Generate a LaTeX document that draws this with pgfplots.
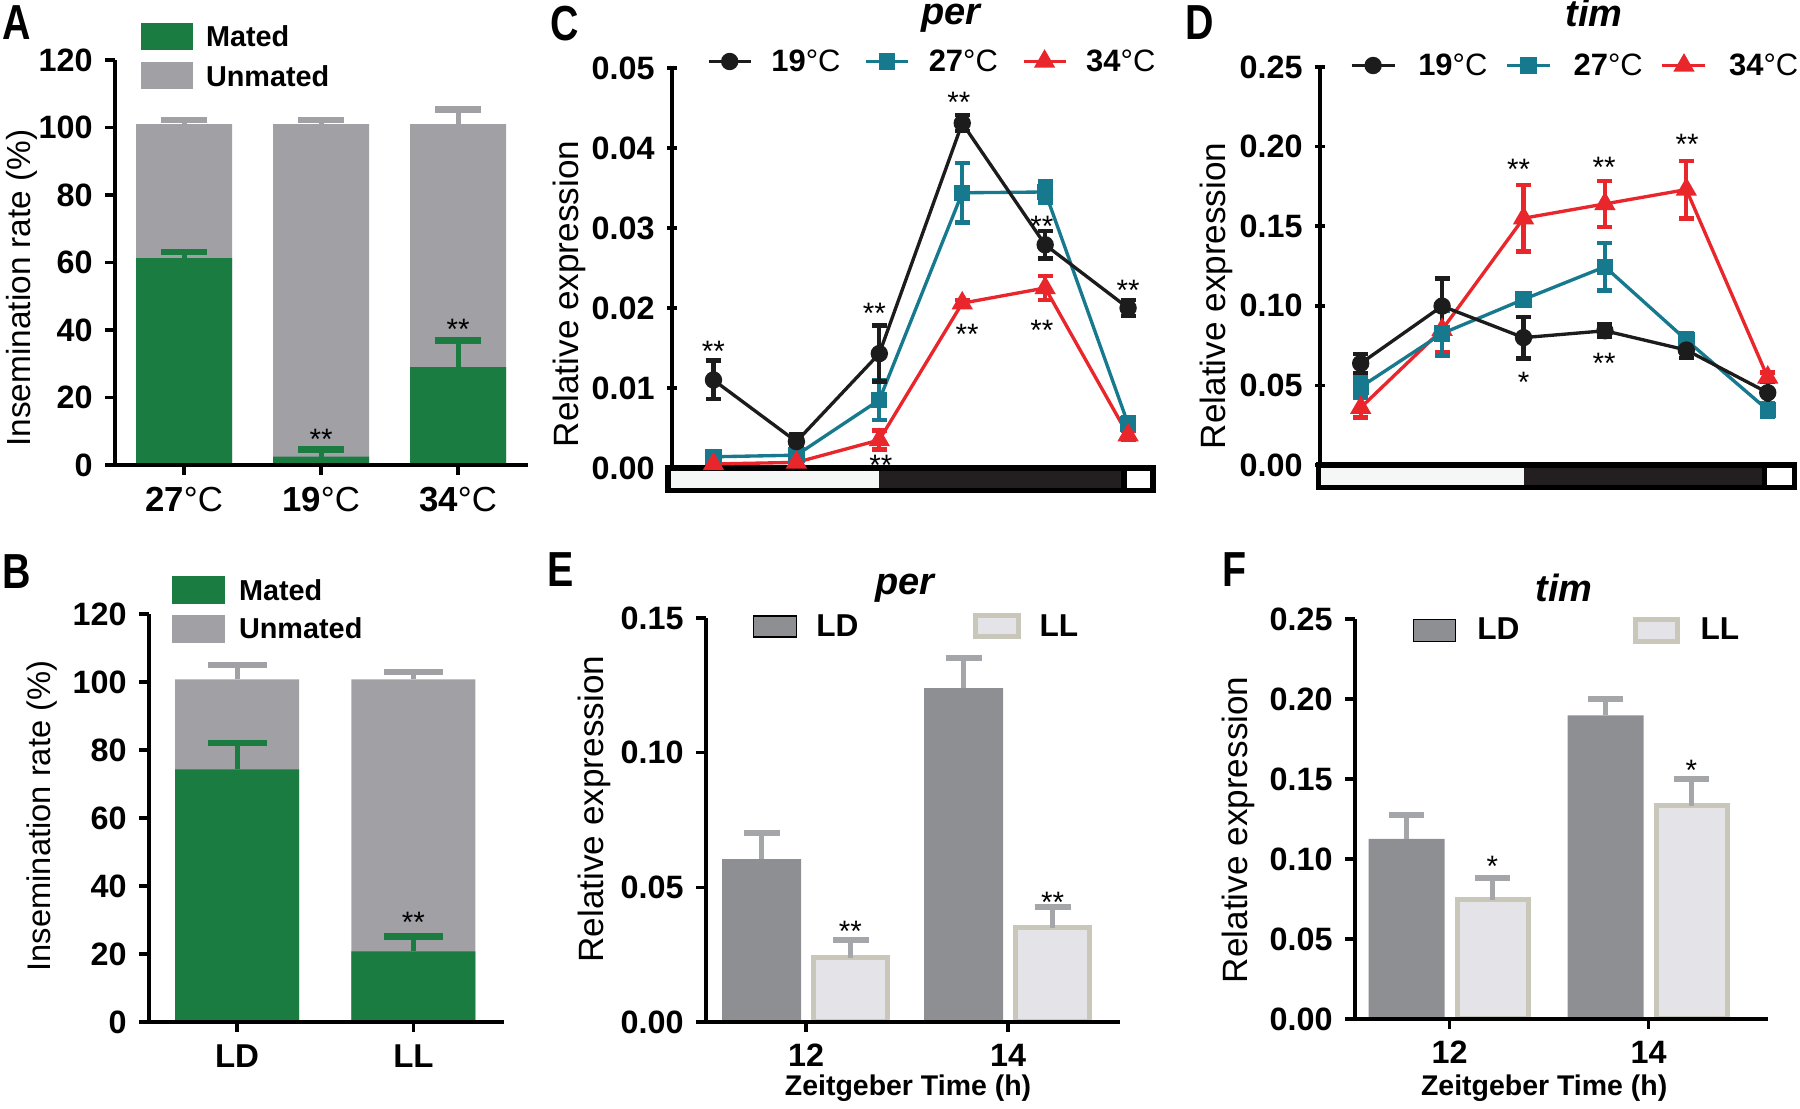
\documentclass[border=0pt]{standalone}
\usepackage{pgfplots}
\pgfplotsset{compat=1.18}
\usepackage{fontspec}
\setmainfont{Liberation Sans}
\usepackage{graphicx}
\definecolor{mgreen}{HTML}{1B7C41}
\definecolor{ugray}{HTML}{A1A1A5}
\definecolor{cteal}{HTML}{17798E}
\definecolor{cred}{HTML}{E8262B}
\definecolor{cblack}{HTML}{1C1C1C}
\definecolor{ldfill}{HTML}{8E8F93}
\definecolor{llfill}{HTML}{E4E4E8}
\definecolor{llborder}{HTML}{C9C7BA}
\definecolor{errgray}{HTML}{A5A6AA}
\definecolor{barlight}{HTML}{F5F6F6}
\definecolor{bardark}{HTML}{231F20}
\newcommand{\tickfont}{\bfseries\fontsize{9.2}{11}\selectfont}
\tikzset{ast/.style={font=\fontsize{8.4}{10}\selectfont, inner sep=0pt, anchor=base, yshift=-1.7mm},
  letter/.style={font=\bfseries\fontsize{14}{16}\selectfont, inner sep=0pt, anchor=north west},
  gtitle/.style={font=\bfseries\itshape\fontsize{10.8}{12}\selectfont, inner sep=0pt, anchor=base}}
\pgfplotsset{
  panel/.style={
    scale only axis, clip=false, axis on top,
    axis lines=left,
    axis line style={line width=1pt, -},
    every non boxed x axis/.append style={x axis line style=-},
    every non boxed y axis/.append style={y axis line style=-},
    tick style={line width=1pt, black},
    major tick length=1mm, tick align=outside,
    /pgf/number format/assume math mode=true,
    yticklabel style={font=\tickfont},
    xticklabel style={font=\tickfont},
    every axis y label/.style={rotate=90, anchor=center, font=\fontsize{10}{12}\selectfont},
    legend style={draw=none, fill=none, inner sep=0pt, outer sep=0pt, nodes={inner sep=0pt}},
    legend cell align=left,
  },
  dec2/.style={yticklabel style={/pgf/number format/.cd, fixed, fixed zerofill, precision=2}, scaled y ticks=false},
  upbar/.style n args={3}{/pgfplots/error bars/y dir=plus, /pgfplots/error bars/y explicit,
    /pgfplots/error bars/error bar style={line width=1.4pt, #1},
    /pgfplots/error bars/error mark=|,
    /pgfplots/error bars/error mark options={line width=#3, mark size=#2, #1}},
  bothbar/.style={/pgfplots/error bars/y dir=both, /pgfplots/error bars/y explicit,
    /pgfplots/error bars/error bar style={line width=1.2pt, #1},
    /pgfplots/error bars/error mark=|,
    /pgfplots/error bars/error mark options={line width=1.3pt, mark size=0.75mm, #1}},
  s19/.style={cblack, line width=0.95pt, mark=*, mark size=0.7mm, mark options={solid}},
  s27/.style={cteal, line width=0.95pt, mark=square*, mark size=0.65mm, mark options={solid}},
  s34/.style={cred, line width=0.95pt, mark=triangle*, mark size=0.9mm, mark options={solid}},
}
\begin{document}
\begin{tikzpicture}
% ---------------- A ----------------
\begin{axis}[panel, at={(11.5mm,64.4mm)}, anchor=south west, width=41.3mm, height=40.5mm,
  xmin=-0.504, xmax=2.51, ymin=0, ymax=120,
  ytick={0,20,40,60,80,100,120},
  xtick={0,1,2}, xticklabels={\textbf{27}°C,\textbf{19}°C,\textbf{34}°C},
  xticklabel style={font=\fontsize{9.9}{11}\selectfont},
  ylabel={Insemination rate (\%)},
  ylabel style={at={(axis description cs:-0.225,0.437)}, font=\fontsize{9.5}{11}\selectfont},
  legend style={at={(axis description cs:0.063,1.091)}, anchor=north west, row sep=1.0mm,
    font=\fontsize{8.2}{10}\selectfont,
    /tikz/every odd column/.append style={column sep=1.3mm}},
  legend image code/.code={\fill[#1] (0mm,-1.1mm) rectangle (5.2mm,1.6mm);},
]
\addlegendimage{fill=mgreen, draw=none}\addlegendentry{\textbf{Mated}}
\addlegendimage{fill=ugray, draw=none}\addlegendentry{\textbf{Unmated}}
\addplot[ybar, bar width=9.6mm, bar shift=0pt, fill=ugray, draw=none, forget plot, upbar={ugray}{2.3mm}{1.8pt}]
  coordinates {(0,101) +- (0,1.2) (1,101) +- (0,1.2) (2,101) +- (0,4.3)};
\addplot[ybar, bar width=9.6mm, bar shift=0pt, fill=mgreen, draw=none, forget plot, upbar={mgreen}{2.3mm}{1.8pt}]
  coordinates {(0,61.3) +- (0,1.8) (1,2.5) +- (0,2.1) (2,29.0) +- (0,7.9)};
\node[ast] at (axis cs:1,9.7) {**};
\node[ast] at (axis cs:2,42.2) {**};
\end{axis}
% ---------------- B ----------------
\begin{axis}[panel, at={(14.9mm,8.7mm)}, anchor=south west, width=35.5mm, height=40.8mm,
  xmin=-0.499, xmax=1.513, ymin=0, ymax=120,
  ytick={0,20,40,60,80,100,120},
  xtick={0,1}, xticklabels={LD,LL},
  xticklabel style={font=\bfseries\fontsize{9.4}{11}\selectfont},
  ylabel={Insemination rate (\%)},
  ylabel style={at={(axis description cs:-0.3,0.505)}, font=\fontsize{9.3}{11}\selectfont},
  legend style={at={(axis description cs:0.065,1.093)}, anchor=north west, row sep=0.9mm,
    font=\fontsize{8.2}{10}\selectfont,
    /tikz/every odd column/.append style={column sep=1.4mm}},
  legend image code/.code={\fill[#1] (0mm,-1.15mm) rectangle (5.3mm,1.65mm);},
]
\addlegendimage{fill=mgreen, draw=none}\addlegendentry{\textbf{Mated}}
\addlegendimage{fill=ugray, draw=none}\addlegendentry{\textbf{Unmated}}
\addplot[ybar, bar width=12.4mm, bar shift=0pt, fill=ugray, draw=none, forget plot, upbar={ugray}{2.95mm}{1.8pt}]
  coordinates {(0,100.8) +- (0,4.2) (1,100.8) +- (0,2.1)};
\addplot[ybar, bar width=12.4mm, bar shift=0pt, fill=mgreen, draw=none, forget plot, upbar={mgreen}{2.95mm}{1.8pt}]
  coordinates {(0,74.3) +- (0,7.8) (1,20.8) +- (0,4.3)};
\node[ast] at (axis cs:1,31.3) {**};
\end{axis}
% ---------------- C ----------------
\begin{axis}[panel, dec2, at={(67.2mm,64.1mm)}, anchor=south west, width=48.1mm, height=40.0mm,
  axis y line=left, axis x line=none,
  xmin=-0.5, xmax=5.30, ymin=0, ymax=0.05,
  ytick={0,0.01,0.02,0.03,0.04,0.05},
  ylabel={Relative expression},
  ylabel style={at={(axis description cs:-0.214,0.435)}},
  legend columns=3,
  legend style={at={(axis description cs:0.0728,1.0125)}, anchor=west,
    font=\fontsize{8.8}{10}\selectfont,
    /tikz/every odd column/.append style={column sep=1.9mm},
    /tikz/every even column/.append style={column sep=2.4mm}},
  legend image code/.code={\draw[mark repeat=2, mark phase=2, #1] plot coordinates {(0mm,0.15mm) (2.1mm,0.15mm) (4.2mm,0.15mm)};},
]
\addlegendimage{s19}\addlegendentry{\textbf{19}°C}
\addlegendimage{s27}\addlegendentry{\textbf{27}°C}
\addlegendimage{s34}\addlegendentry{\textbf{34}°C}
\fill[barlight] (axis cs:-0.55,0) rectangle (axis cs:2.0,-0.0028);
\fill[bardark] (axis cs:2.0,0) rectangle (axis cs:4.95,-0.0028);
\draw[line width=0.55mm] (axis cs:-0.55,0) rectangle (axis cs:5.30,-0.0028);
\draw[line width=0.55mm] (axis cs:4.95,0) -- (axis cs:4.95,-0.0028);
\addplot[s27, forget plot, bothbar={cteal}] coordinates {
 (0,0.0014) +- (0,0.0004) (1,0.0016) +- (0,0.0004) (2,0.0085) +- (0,0.0025)
 (3,0.0344) +- (0,0.0037) (4,0.0345) +- (0,0.0013) (5,0.0055) +- (0,0.0008)};
\addplot[s34, forget plot, bothbar={cred}] coordinates {
 (0,0.0005) +- (0,0.0002) (1,0.0007) +- (0,0.0002) (2,0.0035) +- (0,0.0012)
 (3,0.0206) +- (0,0.0004) (4,0.0225) +- (0,0.0015) (5,0.0041) +- (0,0.0006)};
\addplot[s19, forget plot, bothbar={cblack}] coordinates {
 (0,0.0110) +- (0,0.0024) (1,0.0033) +- (0,0.0009) (2,0.0143) +- (0,0.0035)
 (3,0.0431) +- (0,0.0010) (4,0.0279) +- (0,0.0017) (5,0.0200) +- (0,0.0010)};
\node[ast] at (axis cs:0,0.0154) {**};
\node[ast] at (axis cs:1.94,0.0202) {**};
\node[ast] at (axis cs:2.96,0.0465) {**};
\node[ast] at (axis cs:3.96,0.0311) {**};
\node[ast] at (axis cs:5,0.0231) {**};
\node[ast] at (axis cs:2.02,0.0012) {**};
\node[ast] at (axis cs:3.06,0.0175) {**};
\node[ast] at (axis cs:3.96,0.0181) {**};
\end{axis}
% ---------------- D ----------------
\begin{axis}[panel, dec2, at={(132.0mm,64.4mm)}, anchor=south west, width=47.5mm, height=39.8mm,
  axis y line=left, axis x line=none,
  xmin=-0.5, xmax=5.335, ymin=0, ymax=0.25,
  ytick={0,0.05,0.10,0.15,0.20,0.25},
  ylabel={Relative expression},
  ylabel style={at={(axis description cs:-0.219,0.425)}},
  legend columns=3,
  legend style={at={(axis description cs:0.063,1.0)}, anchor=west,
    font=\fontsize{8.8}{10}\selectfont,
    /tikz/every odd column/.append style={column sep=2.2mm},
    /tikz/every even column/.append style={column sep=1.8mm}},
  legend image code/.code={\draw[mark repeat=2, mark phase=2, #1] plot coordinates {(0mm,0.15mm) (2.15mm,0.15mm) (4.3mm,0.15mm)};},
]
\addlegendimage{s19}\addlegendentry{\textbf{19}°C}
\addlegendimage{s27}\addlegendentry{\textbf{27}°C}
\addlegendimage{s34}\addlegendentry{\textbf{34}°C}
\fill[barlight] (axis cs:-0.52,0) rectangle (axis cs:2.0,-0.0141);
\fill[bardark] (axis cs:2.0,0) rectangle (axis cs:4.96,-0.0141);
\draw[line width=0.55mm] (axis cs:-0.52,0) rectangle (axis cs:5.33,-0.0141);
\draw[line width=0.55mm] (axis cs:4.96,0) -- (axis cs:4.96,-0.0141);
\addplot[s34, forget plot, bothbar={cred}] coordinates {
 (0,0.036) +- (0,0.006) (1,0.085) +- (0,0.014) (2,0.155) +- (0,0.021)
 (3,0.164) +- (0,0.0145) (4,0.173) +- (0,0.018) (5,0.055) +- (0,0.003)};
\addplot[s27, forget plot, bothbar={cteal}] coordinates {
 (0,0.049) +- (0,0.006) (1,0.0826) +- (0,0.014) (2,0.104) +- (0,0.003)
 (3,0.1245) +- (0,0.015) (4,0.0785) +- (0,0.004) (5,0.0345) +- (0,0.004)};
\addplot[s19, forget plot, bothbar={cblack}] coordinates {
 (0,0.0638) +- (0,0.006) (1,0.0998) +- (0,0.0175) (2,0.080) +- (0,0.013)
 (3,0.0843) +- (0,0.004) (4,0.0722) +- (0,0.005) (5,0.0454) +- (0,0.007)};
\node[ast] at (axis cs:1.94,0.1898) {**};
\node[ast] at (axis cs:2.99,0.1914) {**};
\node[ast] at (axis cs:4.01,0.206) {**};
\node[ast] at (axis cs:2,0.0565) {*};
\node[ast] at (axis cs:2.99,0.068) {**};
\end{axis}
% ---------------- E ----------------
\begin{axis}[panel, dec2, at={(70.6mm,8.7mm)}, anchor=south west, width=41.4mm, height=40.4mm,
  xmin=-0.495, xmax=1.554, ymin=0, ymax=0.15,
  ytick={0,0.05,0.10,0.15},
  xtick={0,1}, xticklabels={12,14},
  xlabel={\textbf{Zeitgeber Time (h)}},
  xlabel style={at={(axis description cs:0.488,-0.183)}, anchor=base, font=\fontsize{8.1}{10}\selectfont},
  ylabel={Relative expression},
  ylabel style={at={(axis description cs:-0.27,0.527)}},
  legend columns=2,
  legend style={at={(axis description cs:0.1135,0.9765)}, anchor=west,
    font=\fontsize{9}{11}\selectfont,
    /tikz/every odd column/.append style={column sep=1.9mm},
    /tikz/every even column/.append style={column sep=11.4mm}},
  legend image code/.code={\draw[#1] (0mm,-0.9mm) rectangle (4.3mm,1.2mm);},
]
\addplot[ybar, bar width=7.9mm, bar shift=0pt, fill=ldfill, draw=none, upbar={errgray}{1.8mm}{1.7pt}]
  coordinates {(-0.2203,0.0605) +- (0,0.0097) (0.7797,0.1240) +- (0,0.011)};
\addlegendentry{\textbf{LD}}
\addplot[ybar, bar width=7.4mm, bar shift=0pt, fill=llfill, draw=llborder, line width=0.5mm, upbar={errgray}{1.8mm}{1.7pt}]
  coordinates {(0.2203,0.0238) +- (0,0.0065) (1.2203,0.0350) +- (0,0.0076)};
\addlegendentry{\textbf{LL}}
\node[ast] at (axis cs:0.22,0.0361) {**};
\node[ast] at (axis cs:1.22,0.0470) {**};
\end{axis}
% ---------------- F ----------------
\begin{axis}[panel, dec2, at={(135.5mm,9.0mm)}, anchor=south west, width=41.3mm, height=40.0mm,
  xmin=-0.475, xmax=1.60, ymin=0, ymax=0.25,
  ytick={0,0.05,0.10,0.15,0.20,0.25},
  xtick={0,1}, xticklabels={12,14},
  xlabel={\textbf{Zeitgeber Time (h)}},
  xlabel style={at={(axis description cs:0.458,-0.1925)}, anchor=base, font=\fontsize{8.1}{10}\selectfont},
  ylabel={Relative expression},
  ylabel style={at={(axis description cs:-0.283,0.473)}},
  legend columns=2,
  legend style={at={(axis description cs:0.1404,0.97)}, anchor=west,
    font=\fontsize{9}{11}\selectfont,
    /tikz/every odd column/.append style={column sep=2.1mm},
    /tikz/every even column/.append style={column sep=11.3mm}},
  legend image code/.code={\draw[#1] (0mm,-0.95mm) rectangle (4.2mm,1.25mm);},
]
\addplot[ybar, bar width=7.6mm, bar shift=0pt, fill=ldfill, draw=none, upbar={errgray}{1.75mm}{1.7pt}]
  coordinates {(-0.216,0.1126) +- (0,0.0149) (0.784,0.1898) +- (0,0.0103)};
\addlegendentry{\textbf{LD}}
\addplot[ybar, bar width=7.1mm, bar shift=0pt, fill=llfill, draw=llborder, line width=0.5mm, upbar={errgray}{1.75mm}{1.7pt}]
  coordinates {(0.216,0.0744) +- (0,0.0137) (1.216,0.1334) +- (0,0.0166)};
\addlegendentry{\textbf{LL}}
\node[ast] at (axis cs:0.215,0.0997) {*};
\node[ast] at (axis cs:1.215,0.1597) {*};
\end{axis}
% ---------------- letters and titles ----------------
\node[letter] at (0.2mm,110.4mm) {\scalebox{0.8}[1]{A}};
\node[letter] at (0.2mm,55.5mm) {\scalebox{0.8}[1]{B}};
\node[letter] at (55.0mm,110.4mm) {\scalebox{0.8}[1]{C}};
\node[letter] at (118.5mm,110.4mm) {\scalebox{0.8}[1]{D}};
\node[letter] at (54.7mm,55.7mm) {\scalebox{0.8}[1]{E}};
\node[letter] at (122.2mm,55.7mm) {\scalebox{0.8}[1]{F}};
\node[gtitle] at (95.1mm,108.4mm) {per};
\node[gtitle] at (159.4mm,108.2mm) {tim};
\node[gtitle] at (90.5mm,51.4mm) {per};
\node[gtitle] at (156.4mm,50.7mm) {tim};
\pgfresetboundingbox
\path (0,0) rectangle (180mm,110.9mm);
\end{tikzpicture}
\end{document}
